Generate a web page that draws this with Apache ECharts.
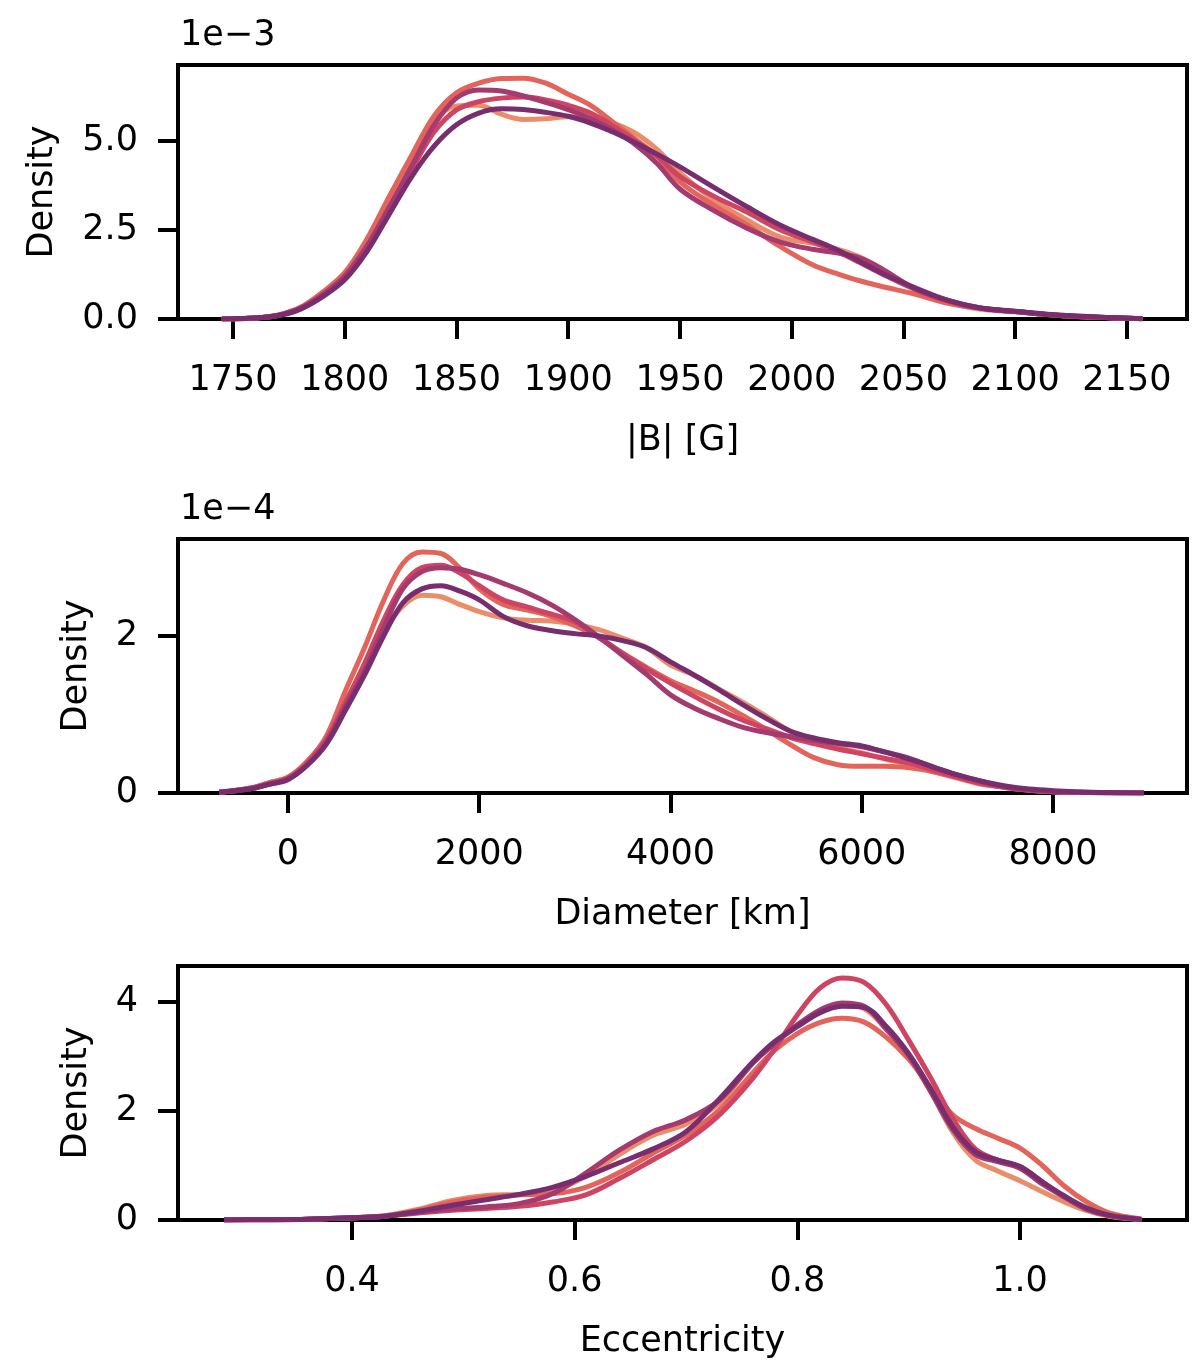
<!DOCTYPE html>
<html>
<head>
<meta charset="utf-8">
<script src="https://cdn.jsdelivr.net/npm/echarts@6/dist/echarts.min.js"></script>
<style>
  html, body { margin: 0; padding: 0; background: #fff; }
  #chart { width: 1200px; height: 1372px; }
</style>
</head>
<body>
<div id="chart"></div>
<script>
// series colours (flare palette, light to dark)
const colors = ['#e98d6b', '#e2645b', '#cd4562', '#a53a6e', '#772d6e'];

// panel 1: |B| [G], density in units of 1e-3
const fieldX = [1745, 1760, 1770, 1780, 1790, 1800, 1810, 1820, 1830, 1840, 1850, 1860, 1870, 1880, 1890, 1900, 1910, 1920, 1930, 1940, 1950, 1965, 1980, 1995, 2010, 2020, 2030, 2040, 2055, 2070, 2085, 2100, 2120, 2140, 2157];
const field1 = [0, 0.03, 0.11, 0.31, 0.7, 1.25, 2.15, 3.3, 4.45, 5.55, 5.98, 6.0, 5.75, 5.6, 5.62, 5.68, 5.64, 5.5, 5.22, 4.75, 4.1, 3.35, 2.78, 2.3, 2.12, 1.97, 1.75, 1.42, 0.85, 0.45, 0.27, 0.2, 0.1, 0.04, 0.005];
const field2 = [0, 0.03, 0.11, 0.32, 0.75, 1.3, 2.25, 3.45, 4.6, 5.7, 6.35, 6.62, 6.75, 6.76, 6.62, 6.31, 6.0, 5.53, 5.05, 4.55, 3.85, 3.2, 2.64, 2.03, 1.5, 1.28, 1.08, 0.92, 0.7, 0.44, 0.3, 0.21, 0.1, 0.04, 0.005];
const field3 = [0, 0.03, 0.1, 0.29, 0.66, 1.15, 2.0, 3.1, 4.2, 5.25, 5.87, 6.1, 6.2, 6.23, 6.15, 6.0, 5.78, 5.42, 5.0, 4.55, 4.0, 3.45, 3.0, 2.5, 2.15, 1.9, 1.6, 1.28, 0.84, 0.5, 0.3, 0.21, 0.1, 0.04, 0.005];
const field4 = [0, 0.03, 0.1, 0.3, 0.68, 1.2, 2.05, 3.15, 4.3, 5.45, 6.2, 6.43, 6.4, 6.26, 6.08, 5.88, 5.63, 5.3, 4.9, 4.35, 3.65, 3.05, 2.55, 2.16, 1.95, 1.86, 1.72, 1.42, 0.85, 0.52, 0.3, 0.21, 0.1, 0.04, 0.005];
const field5 = [0, 0.03, 0.09, 0.27, 0.62, 1.1, 1.9, 2.95, 4.0, 4.85, 5.45, 5.78, 5.9, 5.88, 5.8, 5.69, 5.5, 5.25, 4.95, 4.62, 4.27, 3.7, 3.15, 2.63, 2.22, 1.95, 1.63, 1.3, 0.88, 0.52, 0.3, 0.22, 0.11, 0.05, 0.01];
const fieldTicks = [1750, 1800, 1850, 1900, 1950, 2000, 2050, 2100, 2150];
const fieldYTicks = [0, 2.5, 5.0];

// panel 2: Diameter [km], density in units of 1e-4
const diamX = [-720, -400, -200, 0, 200, 400, 600, 800, 1000, 1200, 1400, 1600, 1800, 2000, 2250, 2500, 2750, 3000, 3250, 3500, 3750, 4000, 4250, 4500, 4750, 5000, 5250, 5500, 5750, 6000, 6250, 6500, 6750, 7000, 7250, 7500, 7750, 8000, 8400, 8950];
const diam1 = [0.01, 0.06, 0.13, 0.2, 0.4, 0.7, 1.15, 1.62, 2.05, 2.38, 2.52, 2.5, 2.4, 2.31, 2.23, 2.2, 2.19, 2.15, 2.08, 1.97, 1.85, 1.63, 1.5, 1.33, 1.16, 0.98, 0.79, 0.68, 0.58, 0.51, 0.43, 0.36, 0.27, 0.19, 0.11, 0.075, 0.04, 0.02, 0.005, 0];
const diam2 = [0.01, 0.06, 0.13, 0.2, 0.4, 0.72, 1.3, 1.85, 2.45, 2.92, 3.07, 3.05, 2.86, 2.6, 2.4, 2.33, 2.25, 2.13, 1.98, 1.78, 1.6, 1.43, 1.3, 1.16, 0.99, 0.81, 0.62, 0.45, 0.36, 0.34, 0.34, 0.32, 0.27, 0.2, 0.13, 0.07, 0.035, 0.015, 0.005, 0];
const diam3 = [0.01, 0.06, 0.12, 0.19, 0.38, 0.68, 1.15, 1.65, 2.2, 2.65, 2.87, 2.9, 2.8, 2.64, 2.46, 2.37, 2.28, 2.18, 1.98, 1.78, 1.58, 1.4, 1.23, 1.07, 0.93, 0.82, 0.71, 0.63, 0.56, 0.5, 0.44, 0.38, 0.29, 0.2, 0.12, 0.07, 0.035, 0.015, 0.004, 0];
const diam4 = [0.01, 0.05, 0.11, 0.18, 0.36, 0.64, 1.1, 1.55, 2.1, 2.6, 2.82, 2.87, 2.85, 2.78, 2.67, 2.55, 2.4, 2.21, 1.99, 1.75, 1.51, 1.25, 1.08, 0.95, 0.84, 0.77, 0.72, 0.67, 0.63, 0.59, 0.52, 0.44, 0.33, 0.23, 0.15, 0.08, 0.04, 0.02, 0.005, 0];
const diam5 = [0.01, 0.05, 0.11, 0.17, 0.35, 0.62, 1.05, 1.5, 2.0, 2.42, 2.6, 2.64, 2.57, 2.46, 2.25, 2.13, 2.07, 2.03, 2.0, 1.94, 1.85, 1.67, 1.5, 1.32, 1.13, 0.95, 0.79, 0.7, 0.64, 0.6, 0.52, 0.43, 0.33, 0.23, 0.15, 0.09, 0.05, 0.03, 0.01, 0];
const diamTicks = [0, 2000, 4000, 6000, 8000];
const diamYTicks = [0, 2];

// panel 3: Eccentricity
const eccX = [0.285, 0.32, 0.36, 0.40, 0.43, 0.46, 0.49, 0.52, 0.55, 0.58, 0.61, 0.64, 0.67, 0.70, 0.73, 0.76, 0.78, 0.80, 0.82, 0.84, 0.86, 0.88, 0.90, 0.92, 0.94, 0.96, 0.98, 1.00, 1.02, 1.04, 1.06, 1.08, 1.109];
const ecc1 = [0, 0.005, 0.015, 0.04, 0.08, 0.2, 0.36, 0.45, 0.47, 0.53, 0.8, 1.2, 1.55, 1.76, 2.15, 2.88, 3.25, 3.55, 3.8, 3.95, 3.88, 3.5, 3.0, 2.35, 1.6, 1.1, 0.9, 0.72, 0.52, 0.33, 0.17, 0.07, 0.01];
const ecc2 = [0, 0.005, 0.015, 0.04, 0.08, 0.18, 0.33, 0.42, 0.46, 0.48, 0.6, 0.87, 1.22, 1.56, 2.02, 2.7, 3.12, 3.42, 3.62, 3.7, 3.63, 3.35, 2.95, 2.42, 1.92, 1.68, 1.5, 1.32, 1.0, 0.62, 0.33, 0.13, 0.02];
const ecc3 = [0, 0.005, 0.015, 0.04, 0.07, 0.13, 0.18, 0.21, 0.25, 0.33, 0.46, 0.76, 1.1, 1.45, 1.93, 2.6, 3.15, 3.76, 4.25, 4.44, 4.36, 3.95, 3.3, 2.6, 1.85, 1.3, 1.1, 0.98, 0.7, 0.42, 0.2, 0.08, 0.01];
const ecc4 = [0, 0.005, 0.015, 0.04, 0.07, 0.14, 0.2, 0.24, 0.3, 0.48, 0.86, 1.28, 1.62, 1.84, 2.2, 2.88, 3.25, 3.58, 3.85, 3.98, 3.92, 3.5, 3.02, 2.35, 1.65, 1.2, 1.07, 0.95, 0.66, 0.42, 0.2, 0.08, 0.01];
const ecc5 = [0, 0.005, 0.015, 0.04, 0.07, 0.16, 0.27, 0.37, 0.47, 0.6, 0.8, 1.05, 1.3, 1.62, 2.22, 2.9, 3.28, 3.55, 3.8, 3.92, 3.9, 3.55, 3.05, 2.4, 1.7, 1.25, 1.1, 0.98, 0.7, 0.44, 0.22, 0.09, 0.01];
const eccTicks = [0.4, 0.6, 0.8, 1.0];
const eccYTicks = [0, 2, 4];

const chart = echarts.init(document.getElementById('chart'));
const font = 'DejaVu Sans';

const panels = [
  { xs: fieldX, ys: [field1, field2, field3, field4, field5], xMin: 1725.4, xMax: 2176.9, yMax: 7.13,
    xTicks: fieldTicks, yTicks: fieldYTicks, xName: '|B| [G]', top: 65, nameGap: 118,
    xFmt: v => String(v), yFmt: v => v.toFixed(1) },
  { xs: diamX, ys: [diam1, diam2, diam3, diam4, diam5], xMin: -1150, xMax: 9401, yMax: 3.235,
    xTicks: diamTicks, yTicks: diamYTicks, xName: 'Diameter [km]', top: 539, nameGap: 84,
    xFmt: v => String(v), yFmt: v => String(v) },
  { xs: eccX, ys: [ecc1, ecc2, ecc3, ecc4, ecc5], xMin: 0.2437, xMax: 1.150, yMax: 4.66,
    xTicks: eccTicks, yTicks: eccYTicks, xName: 'Eccentricity', top: 966, nameGap: 84,
    xFmt: v => v.toFixed(1), yFmt: v => String(v) }
];

const tickStyle = { color: '#000', width: 4 };
const labelStyle = { color: '#000', fontSize: 35, fontFamily: font };

const option = {
  animation: false,
  backgroundColor: '#fff',
  grid: panels.map(p => ({
    left: 178, top: p.top, width: 1009, height: 254,
    show: true, borderColor: '#000', borderWidth: 4, backgroundColor: 'transparent'
  })),
  xAxis: panels.map((p, i) => ({
    type: 'value', gridIndex: i, min: p.xMin, max: p.xMax,
    axisLine: { show: true, onZero: false, lineStyle: tickStyle },
    axisTick: { show: true, length: 20, lineStyle: tickStyle, customValues: p.xTicks },
    axisLabel: Object.assign({ margin: 44, customValues: p.xTicks, formatter: p.xFmt }, labelStyle),
    splitLine: { show: false },
    name: p.xName, nameLocation: 'middle', nameGap: 104,
    nameTextStyle: labelStyle
  })),
  yAxis: panels.map((p, i) => ({
    type: 'value', gridIndex: i, min: 0, max: p.yMax,
    axisLine: { show: true, onZero: false, lineStyle: tickStyle },
    axisTick: { show: true, length: 20, lineStyle: tickStyle, customValues: p.yTicks },
    axisLabel: Object.assign({ margin: 40, customValues: p.yTicks, formatter: p.yFmt }, labelStyle),
    splitLine: { show: false },
    name: 'Density', nameLocation: 'middle', nameGap: p.nameGap, nameRotate: 90,
    nameTextStyle: labelStyle
  })),
  graphic: [
    { type: 'text', left: 180, top: 18, style: { text: '1e\u22123', fill: '#000', font: '35px "DejaVu Sans"' } },
    { type: 'text', left: 180, top: 492, style: { text: '1e\u22124', fill: '#000', font: '35px "DejaVu Sans"' } }
  ],
  series: []
};

panels.forEach((p, i) => {
  p.ys.forEach((vals, k) => {
    option.series.push({
      type: 'line', xAxisIndex: i, yAxisIndex: i,
      data: p.xs.map((x, j) => [x, vals[j]]),
      showSymbol: false, smooth: 0.35,
      lineStyle: { color: colors[k], width: 5 },
      itemStyle: { color: colors[k] },
      z: 2 + k
    });
  });
});

chart.setOption(option);
</script>
</body>
</html>
